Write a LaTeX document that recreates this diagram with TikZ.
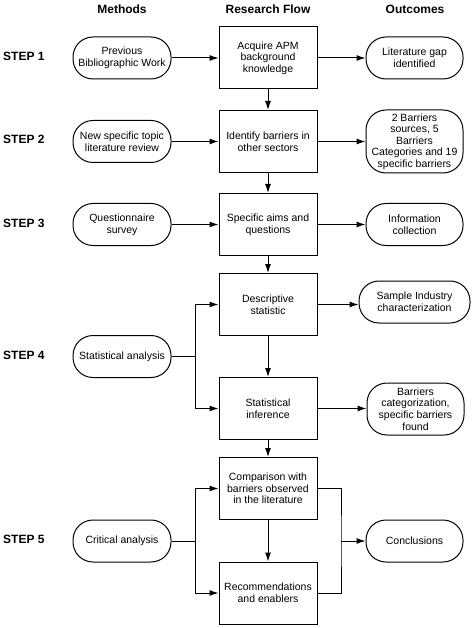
\documentclass[tikz,border=0pt]{standalone}
\usepackage{fontspec}
\setmainfont{Liberation Sans}
\usetikzlibrary{arrows.meta}
\begin{document}
\begin{tikzpicture}[x=1pt,y=1pt,
  txt/.style={font=\fontsize{10.5}{11.6}\selectfont, align=center, inner sep=0pt},
  hdr/.style={font=\fontsize{12}{14}\selectfont\bfseries, inner sep=0pt},
  flowbox/.style={txt, draw, line width=1pt, minimum width=98, minimum height=62},
  pill/.style={txt, draw, line width=1pt, rounded corners=20, minimum width=98, minimum height=42},
  arr/.style={line width=1pt, -{Latex[length=9pt,width=6pt]}},
  ln/.style={line width=1pt}]
\useasboundingbox (0,0) rectangle (474,-628);
% headers
\node[hdr] (hm) at (122,-9) {Methods};
\node[hdr] (hr) at (268,-9) {Research Flow};
\node[hdr] (ho) at (415,-9) {Outcomes};
% steps
\node[hdr, anchor=west] (s1) at (3,-56) {STEP 1};
\node[hdr, anchor=west] (s2) at (3,-139) {STEP 2};
\node[hdr, anchor=west] (s3) at (3,-223) {STEP 3};
\node[hdr, anchor=west] (s4) at (3,-355) {STEP 4};
\node[hdr, anchor=west] (s5) at (3,-539) {STEP 5};
% methods
\node[pill] (m1) at (122,-58) {Previous\\Bibliographic Work};
\node[pill] (m2) at (122,-141.5) {New specific topic\\literature review};
\node[pill] (m3) at (122,-224.5) {Questionnaire\\survey};
\node[pill] (m4) at (122,-356.5) {Statistical analysis};
\node[pill] (m5) at (122,-541) {Critical analysis};
% research flow
\node[flowbox] (b1) at (268,-58) {Acquire APM\\background\\knowledge};
\node[flowbox] (b2) at (268,-141.5) {Identify barriers in\\other sectors};
\node[flowbox] (b3) at (268,-224.5) {Specific aims and\\questions};
\node[flowbox] (b4) at (268,-304.5) {Descriptive\\statistic};
\node[flowbox] (b5) at (268,-408.5) {Statistical\\inference};
\node[flowbox] (b6) at (268,-488.5) {Comparison with\\barriers observed\\in the literature};
\node[flowbox] (b7) at (268,-593) {Recommendations\\and enablers};
% outcomes
\node[pill, minimum width=97] (o1) at (414.5,-58) {Literature gap\\identified};
\node[pill, minimum width=97, minimum height=63] (o2) at (414.5,-141.5) {2 Barriers\\sources, 5\\Barriers\\Categories and 19\\specific barriers};
\node[pill, minimum width=97] (o3) at (414.5,-224.5) {Information\\collection};
\node[pill, minimum width=111] (o4) at (414.5,-302) {Sample Industry\\characterization};
\node[pill, minimum width=97, minimum height=52] (o5) at (415.5,-409) {Barriers\\categorization,\\specific barriers\\found};
\node[pill, minimum width=97] (o6) at (414.5,-541) {Conclusions};
% rows
\draw[arr] (m1) -- (b1);
\draw[arr] (b1) -- (o1);
\draw[arr] (m2) -- (b2);
\draw[arr] (b2) -- (o2);
\draw[arr] (m3) -- (b3);
\draw[arr] (b3) -- (o3);
\draw[arr] (b4.east) -- (b4.east -| o4.west);
\draw[arr] (b5.east) -- (b5.east -| o5.west);
% vertical flow
\draw[arr] (b1) -- (b2);
\draw[arr] (b2) -- (b3);
\draw[arr] (b3) -- (b4);
\draw[arr] (b4) -- (b5);
\draw[arr] (b5) -- (b6);
\draw[arr] (b6) -- (b7);
% step 4 branch
\coordinate (j4) at (195,-356.5);
\draw[ln] (m4.east) -- (j4);
\draw[arr] (j4) |- (b4.west);
\draw[arr] (j4) |- (b5.west);
% step 5 branch
\coordinate (j5) at (195,-541);
\draw[ln] (m5.east) -- (j5);
\draw[arr] (j5) |- (b6.west);
\draw[arr] (j5) |- (b7.west);
\coordinate (k5) at (341,-541);
\draw[ln] (b6.east) -| (k5) |- (b7.east);
\draw[arr] (k5) -- (o6.west);
\end{tikzpicture}
\end{document}
